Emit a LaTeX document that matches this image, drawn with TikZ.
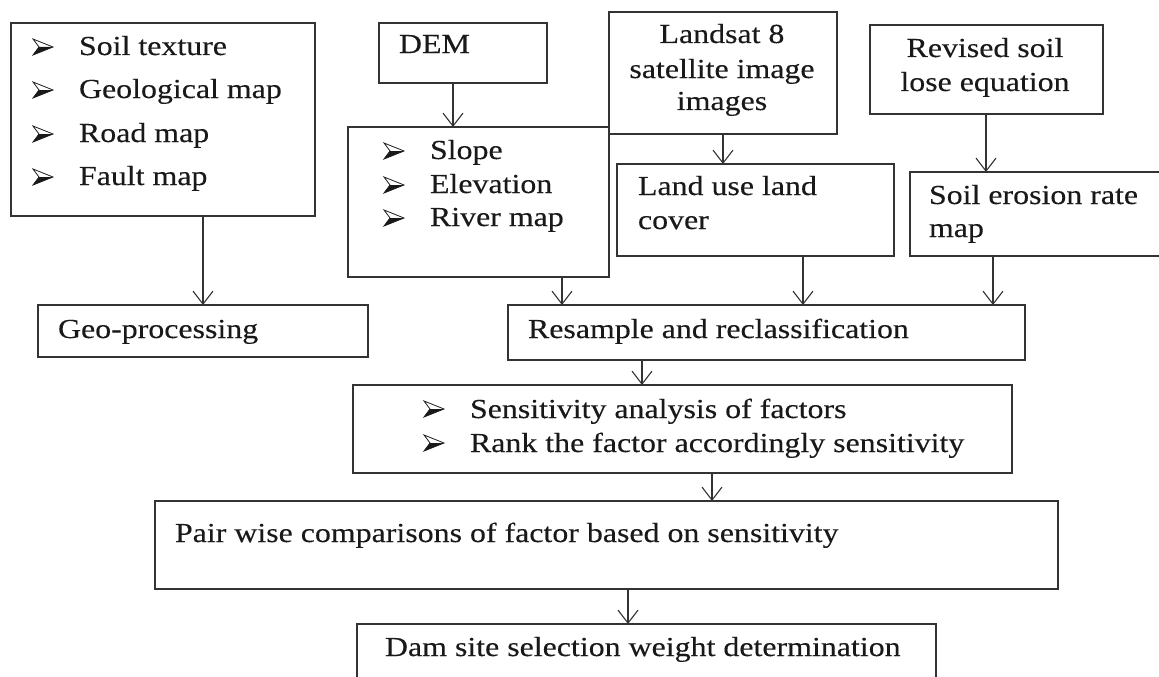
\documentclass[tikz,border=0pt]{standalone}
\usepackage{fontspec}
\setmainfont{Liberation Serif}[FakeStretch=1.16,FakeBold=0.25]
\usetikzlibrary{arrows.meta}

\begin{document}
\begin{tikzpicture}[x=1pt,y=-1pt,
  box/.style={draw=black!80, line width=1.3pt, inner sep=0pt, outer sep=0pt,
              anchor=north west},
  txt/.style={anchor=base west, inner sep=0pt, outer sep=0pt,
              font=\fontsize{27.5}{33}\selectfont, text=black!90},
  ctxt/.style={txt, anchor=base},
  arr/.style={draw=black!80, line width=1.1pt,
              -{Straight Barb[length=13pt,width=20pt,line width=1.1pt]}},
  bul/.pic={
    \fill[black!90] (6,8) -- (20,8) -- (0,16) -- cycle;
    \draw[black!90, line width=0.8pt, line join=miter]
      (0,0) -- (20,8) -- (0,16) -- (6,8) -- cycle;
  }]

\useasboundingbox (0,0) rectangle (1159,677);
\clip (0,0) rectangle (1159,677);
\fill[white] (0,0) rectangle (1159,677);

% ---- boxes ----
\node[box, minimum width=304pt, minimum height=193pt] (L)  at (11,23)  {};
\node[box, minimum width=168pt, minimum height=60pt]  (D)  at (379,23) {};
\node[box, minimum width=261pt, minimum height=150pt] (S)  at (348,127) {};
\node[box, minimum width=228pt, minimum height=122pt] (LS) at (609,12) {};
\node[box, minimum width=277pt, minimum height=92pt]  (LU) at (617,164) {};
\node[box, minimum width=233pt, minimum height=89pt]  (RV) at (870,25) {};
\node[box, minimum width=270pt, minimum height=84pt]  (SE) at (910,172) {};
\node[box, minimum width=330pt, minimum height=52pt]  (GP) at (38,305) {};
\node[box, minimum width=517pt, minimum height=55pt]  (RS) at (508,305) {};
\node[box, minimum width=659pt, minimum height=88pt]  (SA) at (353,385) {};
\node[box, minimum width=903pt, minimum height=88pt]  (PW) at (155,501) {};
\node[box, minimum width=579pt, minimum height=80pt]  (DM) at (357,624) {};

% ---- input layers ----
\pic at (33,39)  {bul};
\pic at (33,82)  {bul};
\pic at (33,126) {bul};
\pic at (33,169) {bul};
\node[txt] (l1) at (79,55)  {Soil texture};
\node[txt] (l2) at (79,98)  {Geological map};
\node[txt] (l3) at (79,142) {Road map};
\node[txt] (l4) at (79,185) {Fault map};

\node[txt] (dem) at (399,53) {DEM};

\pic at (384,143) {bul};
\pic at (384,177) {bul};
\pic at (384,210) {bul};
\node[txt] (s1) at (430,159) {Slope};
\node[txt] (s2) at (430,193) {Elevation};
\node[txt] (s3) at (430,226) {River map};

\node[ctxt] (ls1) at (722,43)  {Landsat 8};
\node[ctxt] (ls2) at (722,78)  {satellite image};
\node[ctxt] (ls3) at (722,110) {images};

\node[txt] (lu1) at (638,195) {Land use land};
\node[txt] (lu2) at (638,229) {cover};

\node[ctxt] (rv1) at (985,57) {Revised soil};
\node[ctxt] (rv2) at (985,91) {lose equation};

\node[txt] (se1) at (929,204) {Soil erosion rate};
\node[txt] (se2) at (929,237) {map};

% ---- processing steps ----
\node[txt] (gp) at (58,338)  {Geo-processing};
\node[txt] (rs) at (528,338) {Resample and reclassification};

\pic at (424,401) {bul};
\pic at (424,435) {bul};
\node[txt] (sa1) at (470,418) {Sensitivity analysis of factors};
\node[txt] (sa2) at (470,452) {Rank the factor accordingly sensitivity};

\node[txt] (pw) at (175,542) {Pair wise comparisons of factor based on sensitivity};
\node[txt] (dm) at (385,656) {Dam site selection weight determination};

% ---- connectors ----
\draw[arr] (L.south -| 203,0)  -- (GP.north -| 203,0);
\draw[arr] (D.south -| 453,0)  -- (S.north -| 453,0);
\draw[arr] (S.south -| 562,0)  -- (RS.north -| 562,0);
\draw[arr] (LS.south -| 723,0) -- (LU.north -| 723,0);
\draw[arr] (LU.south -| 803,0) -- (RS.north -| 803,0);
\draw[arr] (RV.south -| 986,0) -- (SE.north -| 986,0);
\draw[arr] (SE.south -| 993,0) -- (RS.north -| 993,0);
\draw[arr] (RS.south -| 642,0) -- (SA.north -| 642,0);
\draw[arr] (SA.south -| 712,0) -- (PW.north -| 712,0);
\draw[arr] (PW.south -| 628,0) -- (DM.north -| 628,0);
\end{tikzpicture}
\end{document}
